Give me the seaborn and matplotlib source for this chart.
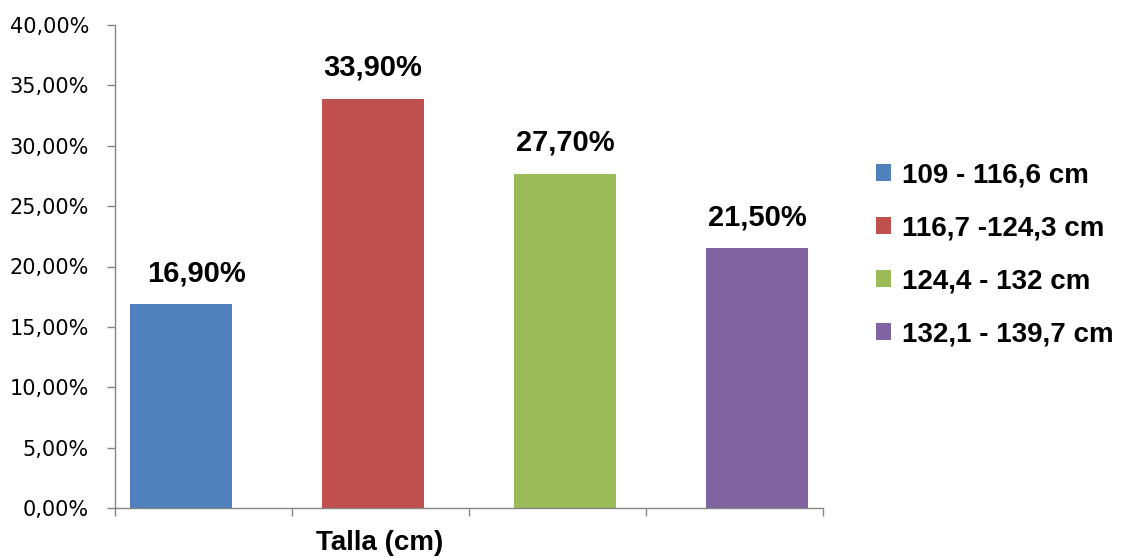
import matplotlib
matplotlib.use("Agg")
import matplotlib.pyplot as plt
from matplotlib.patches import Patch
import numpy as np
import pandas as pd
import seaborn as sns

# Data
categories = ["109 - 116,6 cm", "116,7 -124,3 cm", "124,4 - 132 cm", "132,1 - 139,7 cm"]
shares = [0.169, 0.339, 0.277, 0.215]
y_ticks = [0.00, 0.05, 0.10, 0.15, 0.20, 0.25, 0.30, 0.35, 0.40]
x_title = "Talla (cm)"

colors = ["#4F81BD", "#C0504D", "#9BBB59", "#8064A2"]


def pct(v):
    return f"{v * 100:.2f}%".replace(".", ",")


# Clustered layout: each series sits in its own slot, with a slight
# overlap-style offset from the slot centre.
n = len(categories)
slot_shift = 0.085
bar_frac = 0.576
positions = [i + 0.5 + (i - (n - 1) / 2) * slot_shift for i in range(n)]
min_gap = np.min(np.diff(positions))

df = pd.DataFrame({"pos": positions, "value": shares, "label": categories})

sns.set_style("white")
plt.rcParams["font.family"] = ["DejaVu Sans"]
plt.rcParams["text.color"] = "black"
plt.rcParams["axes.labelcolor"] = "black"
plt.rcParams["xtick.color"] = "black"
plt.rcParams["ytick.color"] = "black"

fig = plt.figure(figsize=(11.24, 5.58), dpi=100)
ax = fig.add_axes([115 / 1124, 1 - 508 / 558, 708 / 1124, 483 / 558])

sns.barplot(
    data=df, x="pos", y="value", hue="label", hue_order=categories,
    palette=colors, native_scale=True, dodge=False, saturation=1,
    width=bar_frac / min_gap, legend=False, linewidth=0, ax=ax,
)

ax.set_xlim(0, n)
ax.set_ylim(0, 0.40)
ax.set_xticks(range(n + 1))
ax.set_xticklabels([])
ax.set_yticks(y_ticks)
ax.set_yticklabels([pct(v) for v in y_ticks], fontsize=15, color="black")
ax.set_ylabel("")

axis_gray = "#868686"
for side in ["top", "right"]:
    ax.spines[side].set_visible(False)
for side in ["left", "bottom"]:
    ax.spines[side].set_color(axis_gray)
    ax.spines[side].set_linewidth(1.0)
ax.tick_params(axis="y", direction="out", length=5.8, width=1.0,
               color=axis_gray, labelcolor="black", pad=13.0, left=True)
ax.tick_params(axis="x", direction="out", length=6.0, width=1.0,
               color=axis_gray, bottom=True)

ax.set_xlabel(x_title, fontsize=20, fontweight="bold", color="black",
              family=["Liberation Sans", "DejaVu Sans"])
ax.xaxis.label.set_va("center")
ax.xaxis.set_label_coords((380 - 115) / 708, -(543 - 508) / 483)

# Value labels above each bar
label_dx = [11.5, 0, 0, 0]
for container, value, dx in zip(ax.containers, shares, label_dx):
    for bar in container:
        ax.annotate(
            pct(value),
            xy=(bar.get_x() + bar.get_width() / 2, bar.get_height()),
            xytext=(dx, 12), textcoords="offset points",
            ha="center", va="bottom", fontsize=21, fontweight="bold",
            color="black", family=["Liberation Sans", "DejaVu Sans"],
        )

handles = [Patch(facecolor=c, edgecolor="none") for c in colors]
leg = fig.legend(
    handles, categories, loc="center left",
    bbox_to_anchor=(876 / 1124, 1 - 255 / 558), frameon=False,
    prop={"family": ["Liberation Sans", "DejaVu Sans"], "weight": "bold", "size": 20},
    handlelength=0.54, handleheight=0.54, handletextpad=0.4,
    labelspacing=0.97, borderpad=0, borderaxespad=0,
)
for t in leg.get_texts():
    t.set_color("black")

fig.savefig("out.png", dpi=100)
